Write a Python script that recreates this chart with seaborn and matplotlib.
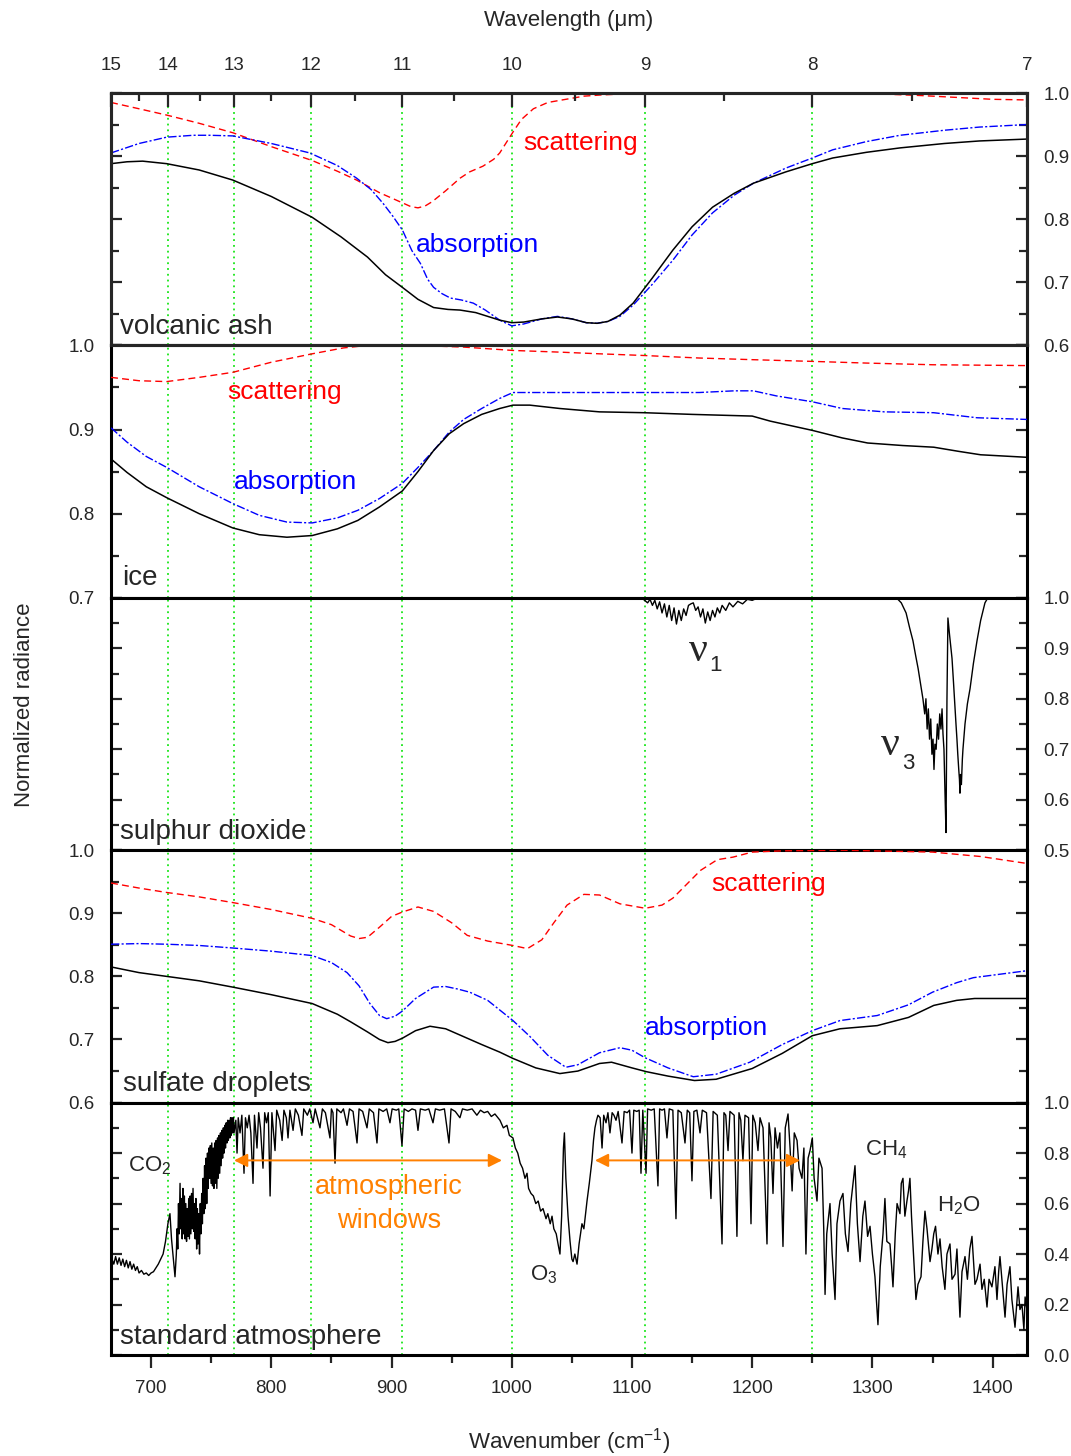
import numpy as np
import matplotlib
matplotlib.use("Agg")
import matplotlib.pyplot as plt
from matplotlib.ticker import MultipleLocator, FormatStrFormatter, FixedLocator
import seaborn as sns

sns.set_style("ticks")
plt.rcParams['font.family'] = ['Liberation Sans', 'DejaVu Sans']
plt.rcParams['mathtext.fontset'] = 'custom'
plt.rcParams['mathtext.rm'] = 'Liberation Sans'
plt.rcParams['mathtext.it'] = 'Liberation Sans:italic'

# ---------------------------------------------------------------- data
WN_MIN, WN_MAX = 10000 / 15.0, 10000 / 7.0
wavelength_ticks = [15, 14, 13, 12, 11, 10, 9, 8, 7]
wavelength_minor = [14.5, 13.5, 12.5, 11.5, 10.5, 9.5, 8.5, 7.5]
wavenumber_ticks = [700, 800, 900, 1000, 1100, 1200, 1300, 1400]

# volcanic ash
ash_total_wn = [666.7, 680, 693, 713, 740, 768, 800, 834, 858, 880, 895, 909, 922, 935, 947, 957, 970, 980,
                990, 1000, 1010, 1025, 1038, 1050, 1062, 1071, 1080, 1090, 1101, 1117, 1134, 1150, 1167,
                1185, 1201, 1228, 1250, 1267, 1295, 1323, 1360, 1389, 1428.5]
ash_total = [0.888, 0.891, 0.892, 0.888, 0.878, 0.862, 0.836, 0.803, 0.772, 0.740, 0.712, 0.692, 0.673,
             0.660, 0.657, 0.656, 0.652, 0.646, 0.640, 0.636, 0.637, 0.642, 0.645, 0.642, 0.636, 0.635,
             0.638, 0.648, 0.667, 0.707, 0.751, 0.788, 0.819, 0.841, 0.857, 0.875, 0.888, 0.897, 0.906,
             0.913, 0.920, 0.924, 0.927]
ash_abs_wn = [666.7, 690, 713, 735, 749, 768, 800, 832, 855, 871, 883, 893, 901, 909, 917, 924, 930, 935,
              942, 949, 958, 968, 978, 990, 1000, 1010, 1025, 1038, 1050, 1062, 1071, 1080, 1090, 1101,
              1117, 1134, 1150, 1167, 1185, 1201, 1228, 1250, 1267, 1295, 1323, 1360, 1389, 1428.5]
ash_abs = [0.905, 0.920, 0.930, 0.933, 0.933, 0.932, 0.920, 0.905, 0.885, 0.865, 0.847, 0.825, 0.805,
           0.783, 0.750, 0.730, 0.705, 0.692, 0.682, 0.675, 0.672, 0.667, 0.656, 0.640, 0.631, 0.634,
           0.642, 0.646, 0.642, 0.636, 0.635, 0.638, 0.646, 0.664, 0.697, 0.735, 0.775, 0.810, 0.838,
           0.857, 0.881, 0.897, 0.910, 0.923, 0.933, 0.941, 0.946, 0.950]
ash_sca_wn = [666.7, 690, 713, 740, 768, 800, 834, 855, 871, 890, 909, 916, 922, 928, 934, 945, 957, 965,
              976, 985, 990, 995, 1001, 1008, 1018, 1030, 1045, 1060, 1075, 1100, 1150, 1200, 1250, 1300,
              1340, 1370, 1400, 1428.5]
ash_sca = [0.985, 0.975, 0.965, 0.952, 0.937, 0.915, 0.893, 0.876, 0.862, 0.842, 0.826, 0.820, 0.818,
           0.821, 0.828, 0.845, 0.865, 0.875, 0.884, 0.895, 0.905, 0.920, 0.938, 0.958, 0.975, 0.985,
           0.990, 0.995, 0.997, 0.999, 1.0, 1.0, 1.0, 0.999, 0.996, 0.993, 0.990, 0.989]

# ice
ice_total_wn = [666.7, 680, 696, 713, 740, 768, 790, 813, 834, 855, 872, 890, 909, 922, 935, 948, 960, 975,
                990, 1001, 1015, 1040, 1073, 1110, 1150, 1175, 1200, 1215, 1250, 1275, 1296, 1325, 1351,
                1372, 1390, 1428.5]
ice_total = [0.865, 0.849, 0.832, 0.819, 0.800, 0.783, 0.775, 0.772, 0.774, 0.782, 0.792, 0.808, 0.827,
             0.850, 0.875, 0.895, 0.907, 0.918, 0.925, 0.929, 0.929, 0.925, 0.921, 0.920, 0.918, 0.917,
             0.916, 0.910, 0.899, 0.890, 0.884, 0.881, 0.879, 0.874, 0.870, 0.867]
ice_abs_wn = [666.7, 680, 696, 713, 740, 768, 790, 813, 834, 855, 872, 890, 909, 922, 935, 948, 960, 975,
              990, 1001, 1040, 1073, 1110, 1156, 1185, 1201, 1220, 1250, 1275, 1310, 1351, 1387, 1428.5]
ice_abs = [0.902, 0.885, 0.868, 0.855, 0.832, 0.812, 0.798, 0.790, 0.789, 0.795, 0.804, 0.818, 0.836,
           0.855, 0.875, 0.897, 0.912, 0.925, 0.937, 0.944, 0.944, 0.944, 0.944, 0.944, 0.946, 0.946,
           0.940, 0.933, 0.925, 0.921, 0.920, 0.914, 0.912]
ice_sca_wn = [666.7, 690, 713, 740, 768, 800, 834, 860, 880, 920, 960, 1001, 1040, 1073, 1110, 1156, 1201,
              1250, 1295, 1350, 1428.5]
ice_sca = [0.962, 0.958, 0.957, 0.962, 0.968, 0.980, 0.990, 0.997, 1.0, 1.0, 0.998, 0.994, 0.992, 0.990,
           0.988, 0.985, 0.983, 0.981, 0.979, 0.977, 0.976]

# sulphur dioxide (nu1 and nu3 bands)
so2_wn = [666.7, 1105, 1109, 1113, 1115, 1117, 1119, 1121, 1123, 1125, 1127, 1129, 1131, 1133, 1135, 1137,
          1139, 1141, 1143, 1145, 1147, 1149, 1151, 1153, 1155, 1157, 1159, 1161, 1163, 1165, 1167, 1169,
          1171, 1173, 1175, 1178, 1181, 1184, 1188, 1192, 1196, 1200, 1205, 1320, 1324, 1328, 1331,
          1333.7, 1336, 1338, 1340, 1342, 1343.5, 1344.5, 1345.5, 1346.5, 1347.5, 1348.5, 1349.5, 1350.4,
          1351.2, 1352, 1353, 1354, 1355, 1356, 1357, 1357.9, 1358.7, 1359.5, 1360.5, 1361.2, 1362,
          1362.8, 1364, 1366.2, 1367.5, 1368.5, 1369.5, 1370.3, 1371, 1371.8, 1372.4, 1372.8, 1373.3,
          1374, 1374.8, 1375.3, 1377, 1379, 1381.2, 1384, 1387, 1390, 1393.6, 1396, 1428.5]
so2 = [1.0, 1.0, 0.998, 0.99, 0.997, 0.985, 0.995, 0.978, 0.992, 0.97, 0.988, 0.962, 0.985, 0.955, 0.98,
       0.948, 0.975, 0.955, 0.978, 0.965, 0.985, 0.988, 0.99, 0.975, 0.982, 0.962, 0.978, 0.95, 0.972,
       0.955, 0.975, 0.962, 0.98, 0.97, 0.985, 0.975, 0.99, 0.982, 0.993, 0.988, 0.997, 0.995, 1.0, 1.0,
       0.99, 0.97, 0.94, 0.915, 0.885, 0.86, 0.83, 0.80, 0.77, 0.80, 0.74, 0.78, 0.72, 0.76, 0.69, 0.72,
       0.66, 0.71, 0.70, 0.75, 0.72, 0.77, 0.74, 0.78, 0.73, 0.70, 0.60, 0.535, 0.80, 0.96, 0.93, 0.88,
       0.83, 0.79, 0.75, 0.72, 0.69, 0.66, 0.64, 0.613, 0.65, 0.63, 0.68, 0.70, 0.75, 0.79, 0.82, 0.87,
       0.915, 0.955, 0.99, 1.0, 1.0]

# sulfate droplets
sul_total_wn = [666.7, 690, 713, 740, 768, 800, 834, 855, 866, 880, 890, 897, 903, 909, 920, 932, 945, 957,
                975, 990, 1001, 1020, 1040, 1055, 1073, 1083, 1100, 1112, 1130, 1152, 1170, 1200, 1225,
                1250, 1273, 1304, 1330, 1351, 1370, 1385, 1428.5]
sul_total = [0.815, 0.806, 0.800, 0.793, 0.783, 0.771, 0.757, 0.740, 0.728, 0.712, 0.700, 0.695, 0.697,
             0.702, 0.714, 0.721, 0.717, 0.707, 0.692, 0.680, 0.670, 0.655, 0.646, 0.650, 0.662, 0.664,
             0.655, 0.649, 0.642, 0.635, 0.637, 0.654, 0.678, 0.706, 0.717, 0.722, 0.735, 0.754, 0.762,
             0.765, 0.765]
sul_abs_wn = [666.7, 690, 713, 740, 768, 800, 834, 850, 863, 873, 882, 890, 896, 903, 909, 920, 935, 945,
              955, 965, 980, 1001, 1015, 1030, 1045, 1055, 1073, 1090, 1100, 1111, 1130, 1151, 1170, 1198,
              1225, 1250, 1273, 1304, 1330, 1350, 1370, 1384, 1428.5]
sul_abs = [0.851, 0.852, 0.851, 0.849, 0.845, 0.840, 0.833, 0.822, 0.806, 0.785, 0.757, 0.738, 0.733,
           0.737, 0.745, 0.765, 0.783, 0.784, 0.780, 0.775, 0.762, 0.730, 0.705, 0.675, 0.656, 0.660,
           0.679, 0.687, 0.683, 0.671, 0.655, 0.641, 0.645, 0.664, 0.692, 0.714, 0.730, 0.738, 0.755,
           0.775, 0.790, 0.798, 0.809]
sul_sca_wn = [666.7, 690, 713, 740, 768, 800, 834, 850, 866, 873, 880, 890, 900, 909, 922, 935, 950, 963,
              980, 1001, 1013, 1025, 1035, 1046, 1060, 1073, 1090, 1111, 1125, 1134, 1145, 1157, 1171,
              1184, 1200, 1225, 1275, 1350, 1390, 1428.5]
sul_sca = [0.948, 0.940, 0.933, 0.926, 0.917, 0.906, 0.892, 0.882, 0.864, 0.860, 0.862, 0.878, 0.895,
           0.902, 0.910, 0.903, 0.885, 0.865, 0.856, 0.849, 0.844, 0.858, 0.885, 0.913, 0.930, 0.929,
           0.915, 0.908, 0.913, 0.924, 0.945, 0.968, 0.985, 0.989, 0.997, 0.999, 1.0, 0.997, 0.990,
           0.979]

# standard atmosphere transmission, by spectral region
atm_co2_edge_wn = [667.5, 669, 670.5, 672, 673.5, 675, 676.5, 678, 679.5, 681, 682.5, 684, 685.5, 687,
                   688.5, 690, 692, 694, 696, 698, 700, 702, 704, 706, 708, 710, 712, 714, 715.7, 717,
                   718.5, 719.9]
atm_co2_edge = [0.38, 0.36, 0.39, 0.36, 0.385, 0.355, 0.38, 0.35, 0.375, 0.345, 0.37, 0.34, 0.36, 0.335,
                0.35, 0.325, 0.335, 0.32, 0.325, 0.315, 0.325, 0.33, 0.345, 0.36, 0.38, 0.40, 0.45, 0.52,
                0.56, 0.46, 0.38, 0.31]
atm_co2_band_wn = [721, 721.6, 722.2, 722.8, 723.4, 724.1, 724.7, 725.3, 725.9, 726.5, 727.1, 727.7, 728.3,
                   728.9, 729.5, 730.1, 730.7, 731.3, 731.9, 732.5, 733.1, 733.7, 734.3, 734.9, 735.5,
                   736.1, 736.7, 737.3, 737.9, 738.5, 739.1, 739.7, 740.3, 740.9, 741.5, 742.1, 742.7,
                   743.3, 743.9, 744.5, 745.1, 745.7, 746.3, 746.9, 747.5, 748.1, 748.7, 749.3, 749.9,
                   750.5, 751.1, 751.7, 752.3, 752.9, 753.5, 754.1, 754.7, 755.3, 755.9, 756.5, 757.1,
                   757.7, 758.3, 758.9, 759.5, 760.1, 760.7, 761.3, 761.9, 762.5, 763.1, 763.7, 764.3,
                   764.9, 765.5, 766.1, 766.7, 767.3, 767.9, 768.5, 769]
atm_co2_band = [0.40, 0.50, 0.42, 0.60, 0.48, 0.68, 0.50, 0.62, 0.46, 0.66, 0.48, 0.63, 0.46, 0.60, 0.45,
                0.58, 0.47, 0.62, 0.46, 0.63, 0.48, 0.64, 0.50, 0.66, 0.49, 0.60, 0.46, 0.62, 0.42, 0.58,
                0.44, 0.56, 0.40, 0.60, 0.48, 0.64, 0.52, 0.70, 0.56, 0.75, 0.58, 0.78, 0.60, 0.80, 0.66,
                0.82, 0.70, 0.83, 0.68, 0.84, 0.67, 0.82, 0.66, 0.84, 0.68, 0.85, 0.66, 0.86, 0.70, 0.87,
                0.72, 0.88, 0.75, 0.89, 0.78, 0.90, 0.80, 0.91, 0.82, 0.92, 0.84, 0.93, 0.85, 0.93, 0.86,
                0.94, 0.87, 0.94, 0.88, 0.94, 0.88]
atm_win1_wn = [770.5, 771.5, 772.5, 774, 775.5, 777.3, 778.5, 780, 781.5, 783, 784.8, 786, 788.1, 789.5,
               791, 793.1, 794.5, 796, 797.5, 799, 800.5, 803.1, 804.5, 807, 809, 810.5, 812.5, 813.9,
               815.5, 818.1, 820, 822.5, 825.5, 827, 830, 832, 834.7, 836.5, 840.5, 842.5, 845, 848.8,
               850, 851.3, 853, 854.5, 858, 860, 863, 865, 868, 871.3, 873, 876, 879.6, 881.5, 885,
               887.9, 889.5, 893, 896, 898.7, 900.5, 904, 906, 908.7, 910.5, 914, 917, 920, 922, 924,
               928, 931, 934.5, 936.5, 940, 944, 947.8, 949.5, 953, 956.9, 959, 963, 967, 971, 974, 977,
               980, 983, 986]
atm_win1 = [0.93, 0.80, 0.94, 0.88, 0.95, 0.72, 0.94, 0.90, 0.95, 0.88, 0.68, 0.95, 0.82, 0.96, 0.90,
            0.74, 0.96, 0.92, 0.96, 0.63, 0.96, 0.81, 0.97, 0.93, 0.85, 0.97, 0.94, 0.86, 0.97, 0.89,
            0.975, 0.95, 0.87, 0.975, 0.95, 0.975, 0.92, 0.975, 0.90, 0.975, 0.96, 0.86, 0.975, 0.96,
            0.76, 0.975, 0.96, 0.975, 0.91, 0.975, 0.965, 0.84, 0.975, 0.965, 0.90, 0.975, 0.96, 0.84,
            0.975, 0.965, 0.975, 0.92, 0.975, 0.97, 0.975, 0.83, 0.975, 0.965, 0.975, 0.97, 0.89, 0.975,
            0.97, 0.975, 0.92, 0.975, 0.97, 0.975, 0.84, 0.975, 0.965, 0.94, 0.975, 0.97, 0.975, 0.95,
            0.97, 0.96, 0.965, 0.945, 0.955]
atm_o3_wn = [990.2, 993, 996, 998, 1001, 1003, 1005, 1007, 1009, 1011, 1012.7, 1014, 1016, 1018, 1020,
             1022, 1024, 1026, 1028.5, 1030, 1032, 1033.5, 1035, 1037, 1038.5, 1040.1, 1041.5, 1043,
             1043.8, 1045, 1046.8, 1048.5, 1050, 1051, 1052.5, 1054.3, 1056, 1058.4, 1060, 1062.6, 1064.5,
             1066.7, 1068, 1069.2, 1070.5, 1071.7, 1073.5]
atm_o3 = [0.93, 0.90, 0.91, 0.87, 0.86, 0.82, 0.80, 0.76, 0.74, 0.70, 0.72, 0.66, 0.64, 0.63, 0.60, 0.61,
          0.57, 0.58, 0.54, 0.56, 0.52, 0.55, 0.50, 0.48, 0.44, 0.40, 0.55, 0.82, 0.88, 0.70, 0.55, 0.45,
          0.38, 0.37, 0.40, 0.36, 0.44, 0.52, 0.50, 0.61, 0.68, 0.77, 0.85, 0.90, 0.93, 0.95, 0.94]
atm_win2_wn = [1075.1, 1076.5, 1078.4, 1080, 1081.7, 1083.5, 1085, 1086.7, 1088.5, 1091.7, 1093.5, 1096,
               1098, 1100, 1101.5, 1104, 1106, 1107.5, 1109, 1111.7, 1113, 1116, 1118.5, 1121.6, 1123,
               1125, 1127, 1129.1, 1131, 1134, 1136.6, 1138.3, 1141, 1144.1, 1146, 1148, 1149.9, 1151.5,
               1154, 1156.6, 1158.5, 1162, 1165.7, 1167.5, 1171, 1174.9, 1176.5, 1178, 1179.9, 1181.5,
               1185, 1187.3, 1189, 1190.5, 1192.3, 1194, 1197, 1199, 1200.5, 1202.5, 1204.8, 1206.5,
               1209, 1212.3, 1214, 1215.5, 1217.3, 1219, 1221, 1223, 1225.6, 1227.5, 1229.8, 1231.5,
               1233.2, 1235, 1237.3]
atm_win2 = [0.82, 0.95, 0.92, 0.96, 0.88, 0.96, 0.95, 0.93, 0.965, 0.84, 0.965, 0.96, 0.97, 0.80, 0.97,
            0.965, 0.97, 0.72, 0.97, 0.72, 0.975, 0.97, 0.975, 0.67, 0.975, 0.97, 0.975, 0.86, 0.975, 0.97,
            0.54, 0.97, 0.96, 0.84, 0.97, 0.96, 0.69, 0.965, 0.97, 0.88, 0.97, 0.96, 0.62, 0.965, 0.95,
            0.44, 0.96, 0.95, 0.81, 0.965, 0.95, 0.47, 0.96, 0.93, 0.77, 0.95, 0.94, 0.52, 0.95, 0.92,
            0.81, 0.94, 0.90, 0.44, 0.92, 0.86, 0.64, 0.90, 0.82, 0.88, 0.43, 0.90, 0.955, 0.82, 0.65,
            0.88, 0.85]
atm_h2o_wn = [1239, 1241.4, 1243, 1244.7, 1246.5, 1248.1, 1250, 1251.5, 1253.9, 1255.5, 1258.1, 1259.5,
              1260.6, 1262, 1264.7, 1266.5, 1268.9, 1270.5, 1273, 1275.5, 1277.5, 1279.7, 1282, 1285.5,
              1287.5, 1289.7, 1292, 1293.8, 1296, 1298, 1300, 1302.1, 1304.6, 1306.5, 1308.8, 1310.4,
              1312, 1314.6, 1316, 1317.1, 1319, 1320.5, 1322.9, 1324, 1325.4, 1327, 1328.7, 1330, 1331.2,
              1332.5, 1333.7, 1336.2, 1337.9, 1340.4, 1342, 1343.7, 1345.4, 1347.9, 1349.5, 1351, 1352.5,
              1354.5, 1356.2, 1358, 1360.3, 1362, 1364.5, 1366.2, 1368.7, 1370.3, 1372.8, 1374.5, 1377,
              1379, 1381, 1382.8, 1385.3, 1387, 1389.5, 1391.1, 1393, 1395.3, 1397, 1399.4, 1401.9,
              1403.6, 1405, 1406.1, 1407.7, 1410.3, 1412, 1414.4, 1416, 1418.6, 1420, 1421.1, 1422.7,
              1424.4, 1426, 1427, 1428.5]
atm_h2o = [0.74, 0.70, 0.82, 0.40, 0.78, 0.81, 0.86, 0.70, 0.61, 0.78, 0.74, 0.50, 0.24, 0.48, 0.60,
           0.40, 0.22, 0.52, 0.61, 0.64, 0.48, 0.41, 0.60, 0.75, 0.52, 0.37, 0.55, 0.61, 0.47, 0.51, 0.40,
           0.31, 0.12, 0.35, 0.48, 0.62, 0.45, 0.44, 0.35, 0.27, 0.48, 0.60, 0.56, 0.68, 0.70, 0.55, 0.61,
           0.65, 0.70, 0.55, 0.44, 0.22, 0.28, 0.31, 0.45, 0.57, 0.50, 0.37, 0.42, 0.48, 0.51, 0.40, 0.46,
           0.35, 0.26, 0.40, 0.44, 0.30, 0.32, 0.42, 0.15, 0.33, 0.39, 0.30, 0.42, 0.47, 0.28, 0.30, 0.36,
           0.26, 0.30, 0.19, 0.30, 0.27, 0.35, 0.22, 0.33, 0.39, 0.30, 0.15, 0.28, 0.35, 0.22, 0.11, 0.20,
           0.27, 0.18, 0.20, 0.10, 0.23, 0.18]

atm_wn = (atm_co2_edge_wn + atm_co2_band_wn + atm_win1_wn + atm_o3_wn + atm_win2_wn + atm_h2o_wn)
atm = (atm_co2_edge + atm_co2_band + atm_win1 + atm_o3 + atm_win2 + atm_h2o)

# ---------------------------------------------------------------- styling
BLACK, BLUE, RED = 'black', '#0000ff', '#ff0000'
ORANGE = '#ff8000'
GREEN = '#19e619'
DASHED = (0, (5, 3))
DASHDOT = (0, (6, 1.6, 1.5, 1.6))
SPINE_W = 2.2

fig = plt.figure(figsize=(10.71, 14.56), dpi=100)
gs = fig.add_gridspec(5, 1, left=111 / 1071, right=1027 / 1071,
                      top=1 - 93 / 1456, bottom=1 - 1355 / 1456, hspace=0)
axes = [fig.add_subplot(gs[i]) for i in range(5)]

panels = [
    dict(ylim=(0.6, 1.0), major=0.1, minor=0.05, side='right'),
    dict(ylim=(0.7, 1.0), major=0.1, minor=0.05, side='left'),
    dict(ylim=(0.5, 1.0), major=0.1, minor=0.05, side='right'),
    dict(ylim=(0.6, 1.0), major=0.1, minor=0.05, side='left'),
    dict(ylim=(0.0, 1.0), major=0.2, minor=0.1, side='right'),
]

for ax, p in zip(axes, panels):
    ax.set_xlim(WN_MIN, WN_MAX)
    ax.set_ylim(*p['ylim'])
    for wl in wavelength_ticks:
        ax.axvline(10000 / wl, color=GREEN, lw=1.3, ls=(0, (1, 2.2)), zorder=0)
    for s in ax.spines.values():
        s.set_linewidth(SPINE_W)
        s.set_color('black')
    ax.yaxis.set_major_locator(MultipleLocator(p['major']))
    ax.yaxis.set_minor_locator(MultipleLocator(p['minor']))
    ax.yaxis.set_major_formatter(FormatStrFormatter('%.1f'))
    ax.tick_params(axis='y', which='both', direction='in', left=True, right=True, width=1.6,
                   labelsize=13.5, labelleft=(p['side'] == 'left'), labelright=(p['side'] == 'right'))
    ax.tick_params(axis='y', which='major', length=8, pad=12)
    ax.tick_params(axis='y', which='minor', length=6)


def curve(ax, x, y, color, ls, lw):
    sns.lineplot(x=x, y=y, ax=ax, color=color, linestyle=ls, linewidth=lw,
                 errorbar=None, sort=False, zorder=3)


curve(axes[0], ash_sca_wn, ash_sca, RED, DASHED, 1.0)
curve(axes[0], ash_abs_wn, ash_abs, BLUE, DASHDOT, 1.0)
curve(axes[0], ash_total_wn, ash_total, BLACK, '-', 1.1)

curve(axes[1], ice_sca_wn, ice_sca, RED, DASHED, 1.0)
curve(axes[1], ice_abs_wn, ice_abs, BLUE, DASHDOT, 1.0)
curve(axes[1], ice_total_wn, ice_total, BLACK, '-', 1.1)

curve(axes[2], so2_wn, so2, BLACK, '-', 1.0)

curve(axes[3], sul_sca_wn, sul_sca, RED, DASHED, 1.0)
curve(axes[3], sul_abs_wn, sul_abs, BLUE, DASHDOT, 1.0)
curve(axes[3], sul_total_wn, sul_total, BLACK, '-', 1.1)

curve(axes[4], atm_wn, atm, BLACK, '-', 1.0)

for ax in axes:
    ax.set_ylabel('')
    ax.set_xlabel('')

# x axes: only the bottom panel carries wavenumber ticks
for ax in axes[:4]:
    ax.tick_params(axis='x', which='both', bottom=False, top=False, labelbottom=False)
axb = axes[4]
axb.xaxis.set_major_locator(FixedLocator(wavenumber_ticks))
axb.xaxis.set_minor_locator(MultipleLocator(50))
axb.tick_params(axis='x', which='both', direction='out', bottom=True, top=False, width=1.6,
                labelsize=13.5)
axb.tick_params(axis='x', which='major', length=9, pad=9)
axb.tick_params(axis='x', which='minor', length=6)
axb.set_xlabel(r'Wavenumber (cm$^{\mathregular{-1}}$)', fontsize=16, labelpad=21)

# top wavelength axis
axt = axes[0].twiny()
axt.set_xlim(WN_MIN, WN_MAX)
axt.xaxis.set_major_locator(FixedLocator([10000 / w for w in wavelength_ticks]))
axt.xaxis.set_minor_locator(FixedLocator([10000 / w for w in wavelength_minor]))
axt.set_xticklabels([str(w) for w in wavelength_ticks])
axt.tick_params(axis='x', which='both', direction='in', width=1.6, labelsize=13.5)
axt.tick_params(axis='x', which='major', length=10, pad=14)
axt.tick_params(axis='x', which='minor', length=6)
for s in axt.spines.values():
    s.set_linewidth(SPINE_W)
axt.set_xlabel('Wavelength (\u03bcm)', fontsize=16, labelpad=22)
axes[0].tick_params(axis='x', which='both', bottom=False, top=False, labelbottom=False)

# annotations
LBL = 20
SER = ['Liberation Serif', 'DejaVu Serif']
a = axes[0]
a.text(1010, 0.921, 'scattering', color=RED, fontsize=19, va='center')
a.text(920, 0.759, 'absorption', color=BLUE, fontsize=19, va='center')
a.text(674, 0.629, 'volcanic ash', fontsize=LBL, va='center')

a = axes[1]
a.text(763, 0.945, 'scattering', color=RED, fontsize=19, va='center')
a.text(769, 0.838, 'absorption', color=BLUE, fontsize=19, va='center')
a.text(676, 0.724, 'ice', fontsize=LBL, va='center')

a = axes[2]
a.text(1147, 0.895, '\u03bd', family=SER, fontsize=30, va='center')
a.text(1164.5, 0.866, '1', fontsize=16, va='center')
a.text(1307, 0.708, '\u03bd', family=SER, fontsize=30, va='center')
a.text(1325, 0.672, '3', fontsize=16, va='center')
a.text(674, 0.536, 'sulphur dioxide', fontsize=LBL, va='center')

a = axes[3]
a.text(1166, 0.946, 'scattering', color=RED, fontsize=19, va='center')
a.text(1111, 0.719, 'absorption', color=BLUE, fontsize=19, va='center')
a.text(677, 0.630, 'sulfate droplets', fontsize=LBL, va='center')

a = axes[4]
a.text(680.5, 0.751, r'CO$_\mathregular{2}$', fontsize=16, va='center')
a.text(1015, 0.318, r'O$_\mathregular{3}$', fontsize=16, va='center')
a.text(1294, 0.814, r'CH$_\mathregular{4}$', fontsize=16, va='center')
a.text(1354, 0.593, r'H$_\mathregular{2}$O', fontsize=16, va='center')
a.text(898, 0.664, 'atmospheric', color=ORANGE, fontsize=19.5, ha='center', va='center')
a.text(898, 0.530, 'windows', color=ORANGE, fontsize=19.5, ha='center', va='center')
a.text(674, 0.071, 'standard atmosphere', fontsize=LBL, va='center')
arrow = dict(arrowstyle='<|-|>', color=ORANGE, lw=1.4, mutation_scale=20, shrinkA=0, shrinkB=0)
a.annotate('', xy=(991.9, 0.771), xytext=(769.0, 0.771), arrowprops=arrow)
a.annotate('', xy=(1239.8, 0.771), xytext=(1069.2, 0.771), arrowprops=arrow)

fig.text(25 / 1071, 1 - 705 / 1456, 'Normalized radiance', rotation=90, fontsize=16,
         ha='center', va='center')

fig.savefig('out.png', dpi=100)
